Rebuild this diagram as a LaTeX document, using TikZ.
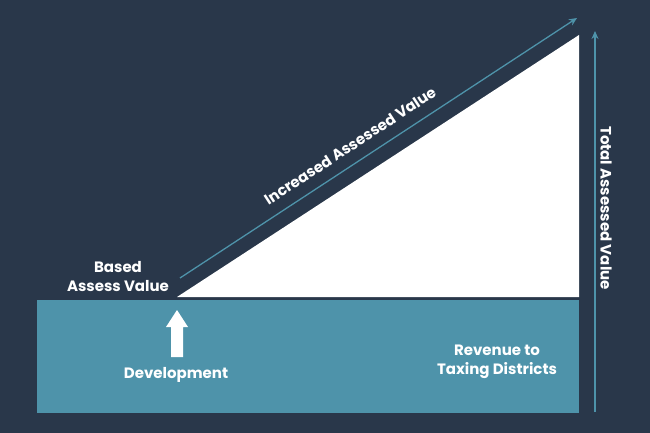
\documentclass[tikz,border=0pt]{standalone}
\usepackage{fontspec}
\setmainfont{Poppins}
\usetikzlibrary{arrows.meta}
\definecolor{bg}{HTML}{29374A}
\definecolor{teal}{HTML}{4E93AA}
\tikzset{lbl/.style={text=white,font=\bfseries\fontsize{15}{19}\selectfont,align=center,inner sep=0},
 arr/.style={teal,line width=1.3pt,-{Stealth[length=8pt,width=7pt]}}}
\begin{document}
\begin{tikzpicture}[x=1pt,y=-1pt]
\fill[bg] (0,0) rectangle (650,433);
\useasboundingbox (0,0) rectangle (650,433);
\fill[teal] (37,300) rectangle (579,413);
\fill[white] (177,297) -- (579,297) -- (579,35) -- cycle;
\coordinate (d0) at (180,278); \coordinate (d1) at (577,18);
\draw[arr] (d0) -- (d1);
\coordinate (v0) at (595,412); \coordinate (v1) at (595,31);
\draw[arr] (v0) -- (v1);
\node[lbl,rotate=-90] (tav) at (606,208) {Total Assessed Value};
\node[lbl,rotate=33.2] (iav) at (350,146) {Increased Assessed Value};
\node[lbl] (bav) at (118,277) {Based\\Assess Value};
\fill[white] (171,357) -- (183,357) -- (183,327) -- (188,327) -- (177,310) -- (166,327) -- (171,327) -- cycle;
\node[lbl] (dev) at (176,375) {Development};
\node[lbl] (rev) at (497,362) {Revenue to\\Taxing Districts};
\end{tikzpicture}
\end{document}
